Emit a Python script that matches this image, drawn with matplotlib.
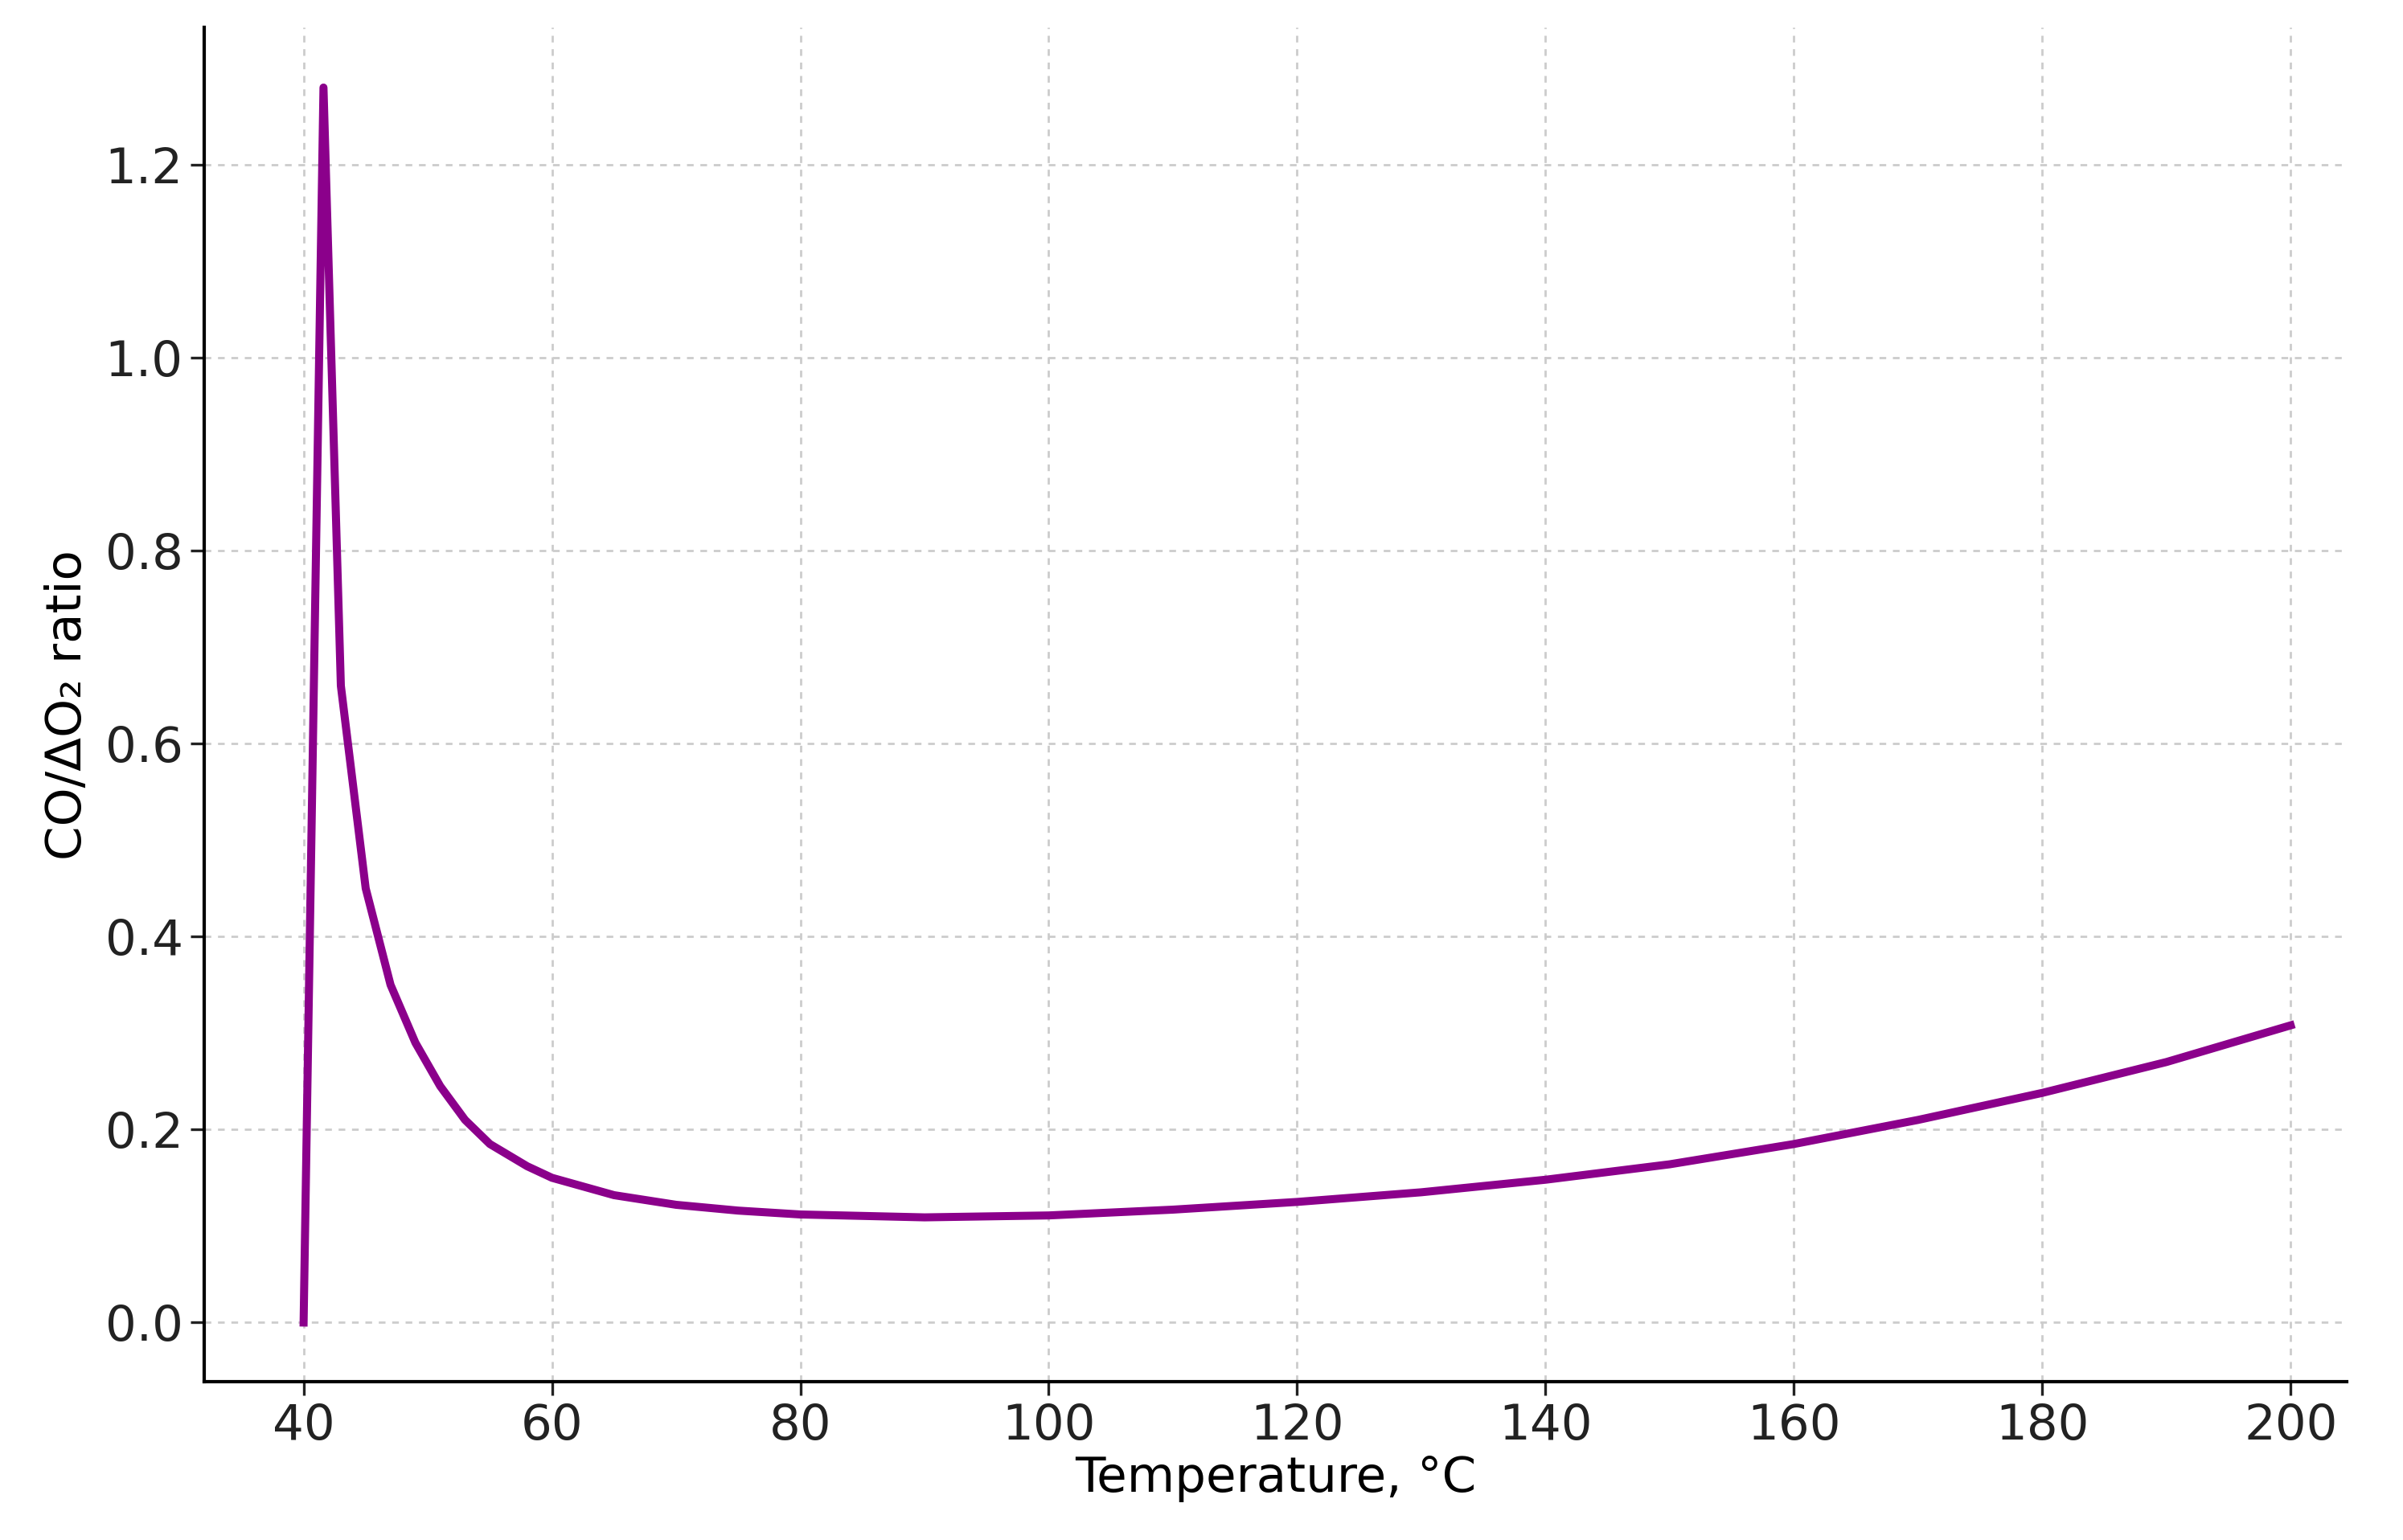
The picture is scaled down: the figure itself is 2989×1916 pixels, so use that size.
import matplotlib
matplotlib.use("Agg")
import matplotlib.pyplot as plt

temperature = [40, 41.6, 43, 45, 47, 49, 51, 53, 55, 58, 60, 65, 70, 75, 80, 90, 100, 110, 120, 130, 140, 150, 160, 170, 180, 190, 200]
ratio = [0.0, 1.28, 0.66, 0.45, 0.35, 0.29, 0.245, 0.21, 0.185, 0.162, 0.15, 0.132, 0.122, 0.116, 0.112, 0.109, 0.111, 0.117, 0.125, 0.135, 0.148, 0.164, 0.185, 0.21, 0.238, 0.27, 0.308]
xticks = [40, 60, 80, 100, 120, 140, 160, 180, 200]
yticks = [0.0, 0.2, 0.4, 0.6, 0.8, 1.0, 1.2]

fig = plt.figure(figsize=(14.945, 9.58), dpi=200)
ax = fig.add_axes([0.085, 0.103, 0.8915, 0.879])
ax.plot(temperature, ratio, color="#8B008B", lw=3.6)
ax.set_xlim(32, 204.5)
ax.set_ylim(-0.061, 1.342)
ax.set_xticks(xticks)
ax.set_yticks(yticks)
ax.set_yticklabels([f"{v:.1f}" for v in yticks])
ax.tick_params(labelsize=22, length=6, width=1.2, colors="#222222")
ax.grid(True, ls=(0, (3, 3)), color="#cccccc", lw=1.0)
for s in ["top", "right"]:
    ax.spines[s].set_visible(False)
for s in ["left", "bottom"]:
    ax.spines[s].set_linewidth(1.5)
ax.set_xlabel("Temperature, °C", fontsize=22, labelpad=2)
ax.set_ylabel("CO/ΔO₂ ratio", fontsize=22, labelpad=6)
fig.savefig("out.png", dpi=200)
